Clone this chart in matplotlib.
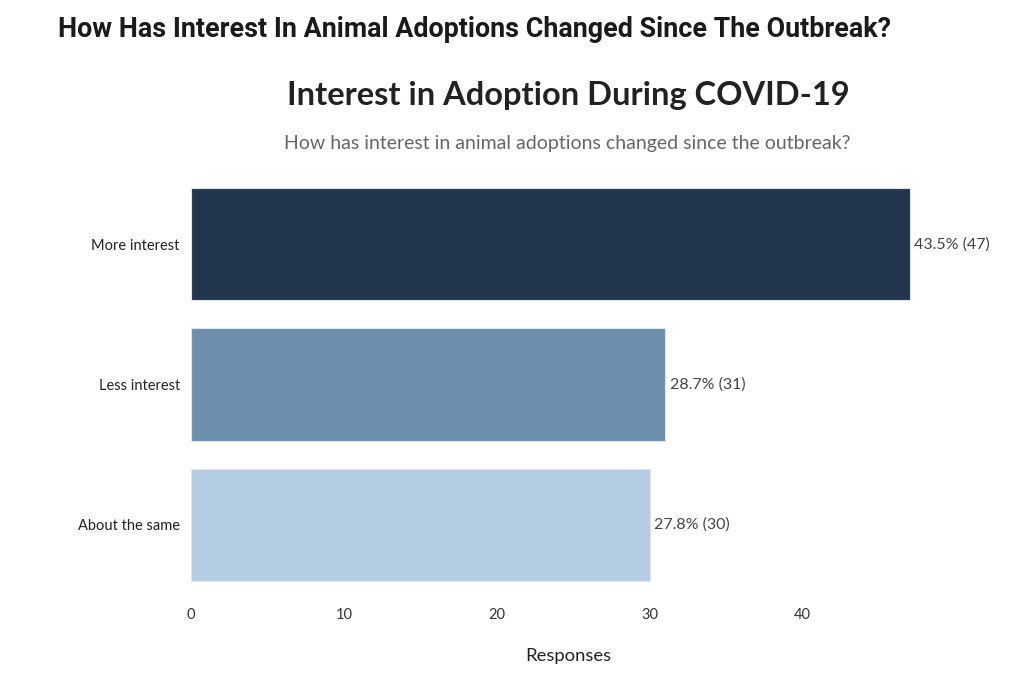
import matplotlib.pyplot as plt

categories = ["More interest", "Less interest", "About the same"]
responses = [47, 31, 30]
percents = [43.5, 28.7, 27.8]
bar_colors = ["#22374d", "#6d8fae", "#b5cde2"]
xticks = [0, 10, 20, 30, 40]

fig = plt.figure(figsize=(10.24, 6.74), dpi=100)
ax = fig.add_axes([0.1865, 0.1172, 0.7363, 0.6246])

ypos = list(range(len(categories)))
ax.barh(ypos, responses, height=0.8, color=bar_colors, edgecolor="#dde4ec", linewidth=0.8)

# value labels to the right of each bar
for y, val, pct in zip(ypos, responses, percents):
    ax.text(val + 0.3, y, f"{pct}% ({val})", va="center", ha="left",
            fontsize=11.5, color="#444444", family="Lato", clip_on=False)

ax.set_xlim(0, 49.3)
ax.set_ylim(2.5, -0.5)
ax.set_yticks(ypos)
ax.set_yticklabels(categories, fontsize=10.5, color="#222222", family="Lato")
ax.set_xticks(xticks)
ax.set_xticklabels([str(t) for t in xticks], fontsize=10.5, color="#333333", family="Lato")
ax.tick_params(length=0, pad=8)
ax.tick_params(axis="x", pad=9)
for s in ax.spines.values():
    s.set_visible(False)
ax.set_xlabel("Responses", fontsize=13.3, color="#222222", family="Lato", labelpad=19)

fig.text(0.057, 0.956, "How Has Interest In Animal Adoptions Changed Since The Outbreak?",
         fontsize=19.4, fontweight="bold", family="Roboto", color="#1a1a1a", va="center")
fig.text(0.555, 0.858, "Interest in Adoption During COVID-19",
         fontsize=23.5, fontweight="bold", family="Lato", color="#222222", ha="center", va="center")
fig.text(0.554, 0.787, "How has interest in animal adoptions changed since the outbreak?",
         fontsize=14, family="Lato", color="#666666", ha="center", va="center")

fig.savefig("out.png", dpi=100)
